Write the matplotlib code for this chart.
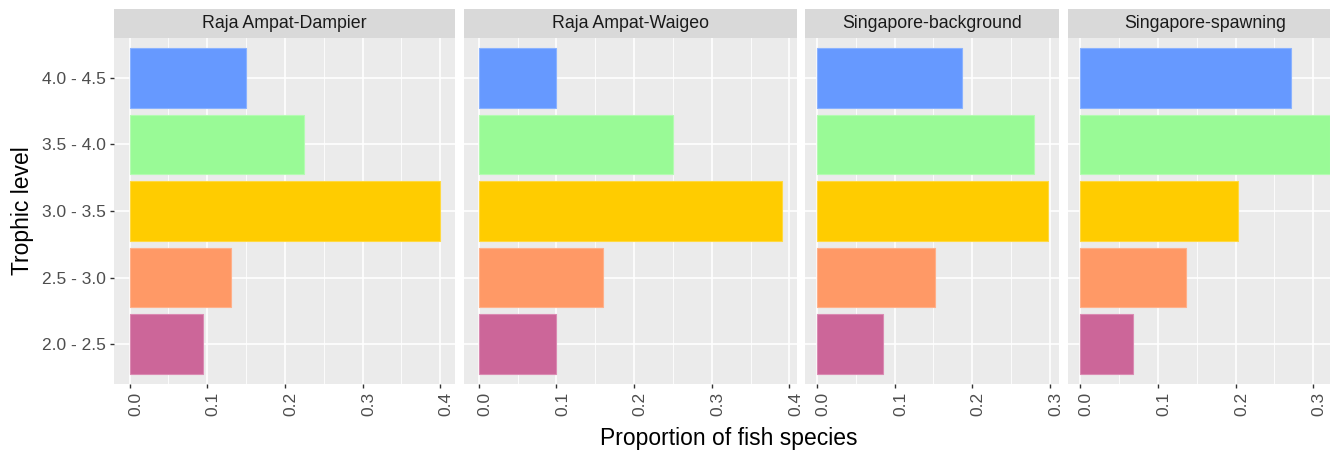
import matplotlib
matplotlib.use("Agg")
import matplotlib.pyplot as plt
from matplotlib.patches import Rectangle
from matplotlib.ticker import MultipleLocator
import matplotlib.transforms as mtransforms

plt.rcParams['font.family'] = ['Liberation Sans', 'DejaVu Sans']

# trophic level bins, bottom to top
levels = ["2.0 - 2.5", "2.5 - 3.0", "3.0 - 3.5", "3.5 - 4.0", "4.0 - 4.5"]
level_colors = ["#CC6699", "#FF9966", "#FFCC00", "#99FA96", "#6699FF"]
level_edges = ["#DA8AB2", "#FFB08A", "#FFD940", "#B4FBB2", "#8AB2FF"]

sites = ["Raja Ampat-Dampier", "Raja Ampat-Waigeo",
         "Singapore-background", "Singapore-spawning"]

# proportion of fish species per trophic level bin
dampier = [0.094, 0.130, 0.399, 0.225, 0.150]
waigeo = [0.100, 0.160, 0.390, 0.250, 0.100]
sg_background = [0.085, 0.152, 0.297, 0.279, 0.187]
sg_spawning = [0.068, 0.136, 0.203, 0.322, 0.271]
site_values = [dampier, waigeo, sg_background, sg_spawning]

W, H = 1330, 450
fig = plt.figure(figsize=(W / 100, H / 100), dpi=100)

# panel geometry in pixels (free x scale, panel width follows data range)
px_per_unit = 777
left_px = 114
gap_px = 8.5
panel_top, panel_bottom = 38, 384
strip_h = 28.7

tick_col = "#4D4D4D"
x = left_px
axes = []
for i, (site, vals) in enumerate(zip(sites, site_values)):
    vmax = max(vals)
    lo, hi = -0.05 * vmax, 1.05 * vmax
    w = (hi - lo) * px_per_unit
    ax = fig.add_axes([x / W, (H - panel_bottom) / H, w / W,
                       (panel_bottom - panel_top) / H])
    x += w + gap_px
    axes.append(ax)

    ax.set_facecolor("#EBEBEB")
    ax.barh(range(len(levels)), vals, height=0.9, color=level_colors,
            edgecolor=level_edges, linewidth=0.8, zorder=3)
    ax.set_xlim(lo, hi)
    ax.set_ylim(-0.6, len(levels) - 0.4)

    ax.xaxis.set_major_locator(MultipleLocator(0.1))
    ax.xaxis.set_minor_locator(MultipleLocator(0.05))
    ax.set_yticks(range(len(levels)))
    ax.grid(which="major", color="white", linewidth=1.2, zorder=1)
    ax.grid(which="minor", axis="x", color="white", linewidth=0.6, zorder=1)
    ax.tick_params(which="minor", length=0)
    ax.tick_params(which="major", length=3, width=1, color="#333333",
                   labelcolor=tick_col, labelsize=12.5, pad=2.5)
    for s in ax.spines.values():
        s.set_visible(False)

    ax.set_xticklabels([f"{t:.1f}" for t in ax.get_xticks()],
                       rotation=90, ha="left", va="top")
    offset = mtransforms.ScaledTranslation(-1.5 / 100, 0, fig.dpi_scale_trans)
    for lab in ax.get_xticklabels():
        lab.set_transform(lab.get_transform() + offset)

    if i == 0:
        ax.set_yticklabels(levels)
        ax.set_ylabel("Trophic level", fontsize=16.5, color="#000000",
                      labelpad=6)
    else:
        ax.tick_params(axis="y", length=0, labelleft=False)

    # facet strip
    sh = strip_h / (panel_bottom - panel_top)
    ax.add_patch(Rectangle((0, 1), 1, sh, transform=ax.transAxes,
                           facecolor="#D9D9D9", edgecolor="none",
                           clip_on=False))
    ax.text(0.5, 1 + sh / 2, site, transform=ax.transAxes, ha="center",
            va="center", fontsize=12.8, color="#1A1A1A")

# shared x title centred under the full set of panels
x_center = (left_px + x - gap_px) / 2
fig.text(x_center / W, (H - 438) / H, "Proportion of fish species",
         ha="center", va="center", fontsize=16.5, color="#000000")

fig.savefig("out.png", dpi=100, facecolor="white")
